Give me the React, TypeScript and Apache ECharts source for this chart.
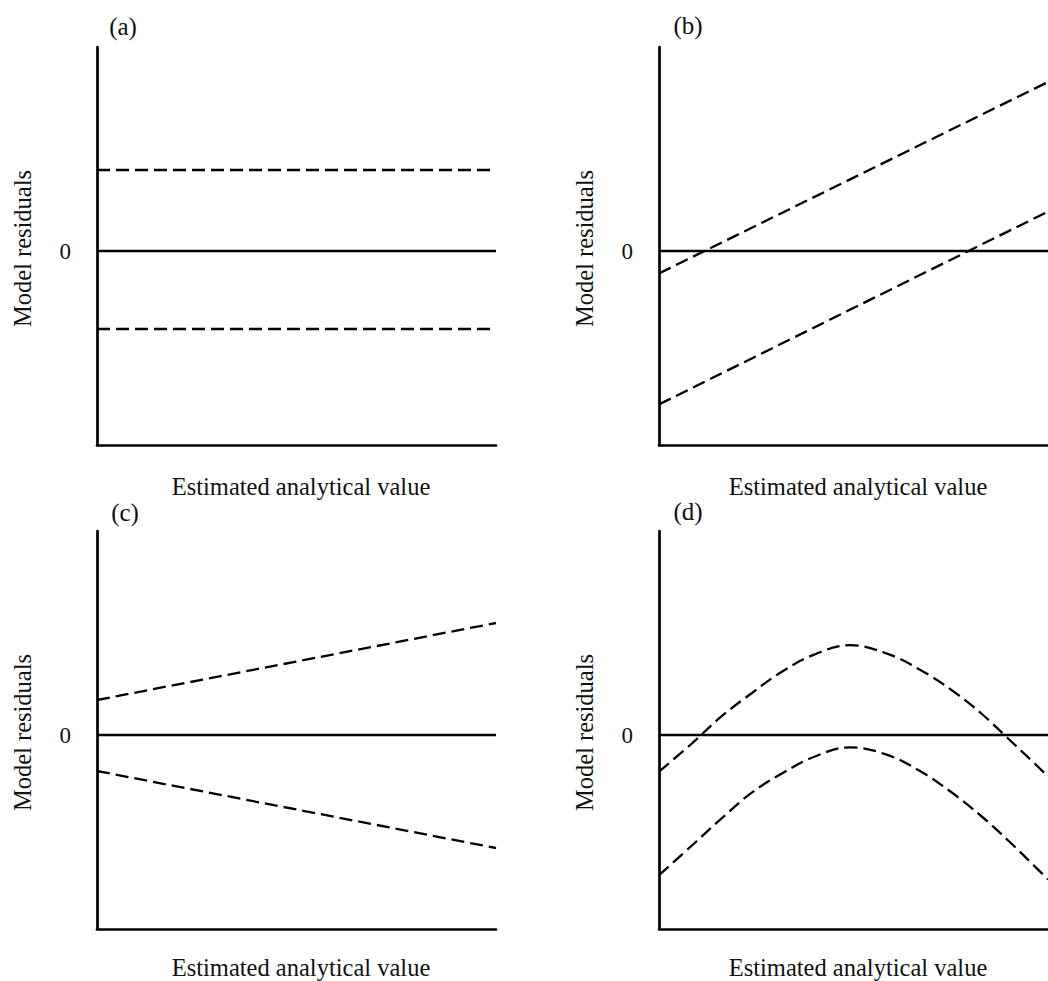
import React, { useEffect, useRef } from "react";
import * as echarts from "echarts";

// ---- data ----
const panelLabels = ["(a)", "(b)", "(c)", "(d)"];
const xAxisTitle = "Estimated analytical value";
const yAxisTitle = "Model residuals";
const yTickValues = [0];

const zeroX = [0, 100];
const zeroY = [0, 0];

const aX = [0, 98.7];
const aUpper = [40.5, 40.5];
const aLower = [-39, -39];

const bX = [0, 100];
const bUpper = [-11.2, 84.5];
const bLower = [-76.7, 19.7];

const cX = [0, 100];
const cUpper = [17.5, 56];
const cLower = [-18, -56.5];

const dUpperX = [0, 8.6, 16.1, 23.9, 31.8, 39.9, 49.1, 58.6, 67.3, 75.4, 83, 89.6, 96.7, 100];
const dUpper = [-18.3, -4, 9.4, 21, 31.9, 40.2, 44.9, 40.7, 32.4, 22.2, 10.5, -1.5, -14.5, -20.8];
const dLowerX = [0, 8.6, 16.1, 23.6, 31.6, 40.4, 49.1, 58.3, 67.1, 75, 82.8, 89.9, 96.5, 100];
const dLower = [-70.1, -55, -41.7, -29.2, -19.2, -10.5, -6.2, -9.7, -18, -28.4, -40.5, -53, -65.5, -72.2];

const Y_MIN = -97;
const Y_MAX = 102;

const pairs = (xs: number[], ys: number[]) => xs.map((x, i) => [x, ys[i]]);

const FONT = "'Liberation Serif', 'Times New Roman', serif";
const TEXT_COLOR = "#111";

export default function App() {
  const ref = useRef<HTMLDivElement>(null);

  useEffect(() => {
    if (!ref.current) return;
    const chart = echarts.init(ref.current, undefined, { renderer: "svg" });

    const grids = [
      { left: 97, top: 47, width: 399, height: 398 },
      { left: 659, top: 47, width: 399, height: 398 },
      { left: 97, top: 531, width: 399, height: 398 },
      { left: 659, top: 531, width: 399, height: 398 },
    ];
    const xNameGaps = [29, 29, 26, 26];

    const xAxes = grids.map((_, i) => ({
      type: "value",
      gridIndex: i,
      min: 0,
      max: 100,
      name: xAxisTitle,
      nameLocation: "middle",
      nameGap: xNameGaps[i],
      nameTextStyle: {
        fontFamily: FONT,
        fontSize: 24.5,
        color: TEXT_COLOR,
        padding: [0, 0, 0, 9],
      },
      axisLine: { show: true, onZero: false, lineStyle: { color: "#000", width: 2.7 } },
      axisTick: { show: false },
      axisLabel: { show: false },
      splitLine: { show: false },
    }));

    const yAxes = grids.map((_, i) => ({
      type: "value",
      gridIndex: i,
      min: Y_MIN,
      max: Y_MAX,
      name: yAxisTitle,
      nameLocation: "middle",
      nameRotate: 90,
      nameGap: 62,
      nameTextStyle: {
        fontFamily: FONT,
        fontSize: 24.5,
        color: TEXT_COLOR,
        padding: [0, 5, 0, 0],
      },
      axisLine: { show: true, onZero: false, lineStyle: { color: "#000", width: 2.7 } },
      axisTick: { show: false },
      axisLabel: {
        show: true,
        customValues: yTickValues,
        margin: 26,
        fontFamily: FONT,
        fontSize: 23,
        color: TEXT_COLOR,
      },
      splitLine: { show: false },
    }));

    const dashed = { color: "#000", width: 2.3, type: [13, 6] as number[] };
    const solid = { color: "#000", width: 2.3, type: "solid" };

    const panelSeries: { x: number[]; y: number[]; dashed: boolean; smooth?: boolean }[][] = [
      [
        { x: zeroX, y: zeroY, dashed: false },
        { x: aX, y: aUpper, dashed: true },
        { x: aX, y: aLower, dashed: true },
      ],
      [
        { x: zeroX, y: zeroY, dashed: false },
        { x: bX, y: bUpper, dashed: true },
        { x: bX, y: bLower, dashed: true },
      ],
      [
        { x: zeroX, y: zeroY, dashed: false },
        { x: cX, y: cUpper, dashed: true },
        { x: cX, y: cLower, dashed: true },
      ],
      [
        { x: zeroX, y: zeroY, dashed: false },
        { x: dUpperX, y: dUpper, dashed: true, smooth: true },
        { x: dLowerX, y: dLower, dashed: true, smooth: true },
      ],
    ];

    const series: any[] = [];
    panelSeries.forEach((list, i) => {
      list.forEach((s) => {
        series.push({
          type: "line",
          xAxisIndex: i,
          yAxisIndex: i,
          data: pairs(s.x, s.y),
          showSymbol: false,
          symbol: "none",
          smooth: s.smooth ? 0.4 : false,
          lineStyle: s.dashed ? dashed : solid,
          silent: true,
          z: s.dashed ? 3 : 2,
        });
      });
    });

    const labelPos = [
      [123, 26],
      [688, 25],
      [125, 512],
      [688, 511],
    ];

    const graphic = panelLabels.map((t, i) => ({
      type: "text",
      x: labelPos[i][0],
      y: labelPos[i][1],
      style: {
        text: t,
        fontFamily: FONT,
        fontSize: 25,
        fill: TEXT_COLOR,
        align: "center",
        verticalAlign: "middle",
      },
    }));

    chart.setOption({
      animation: false,
      backgroundColor: "#fff",
      grid: grids,
      xAxis: xAxes,
      yAxis: yAxes,
      series,
      graphic,
    });

    return () => chart.dispose();
  }, []);

  return (
    <div
      ref={ref}
      style={{ position: "absolute", left: 0, top: 0, width: 1048, height: 981, overflow: "hidden" }}
    />
  );
}
